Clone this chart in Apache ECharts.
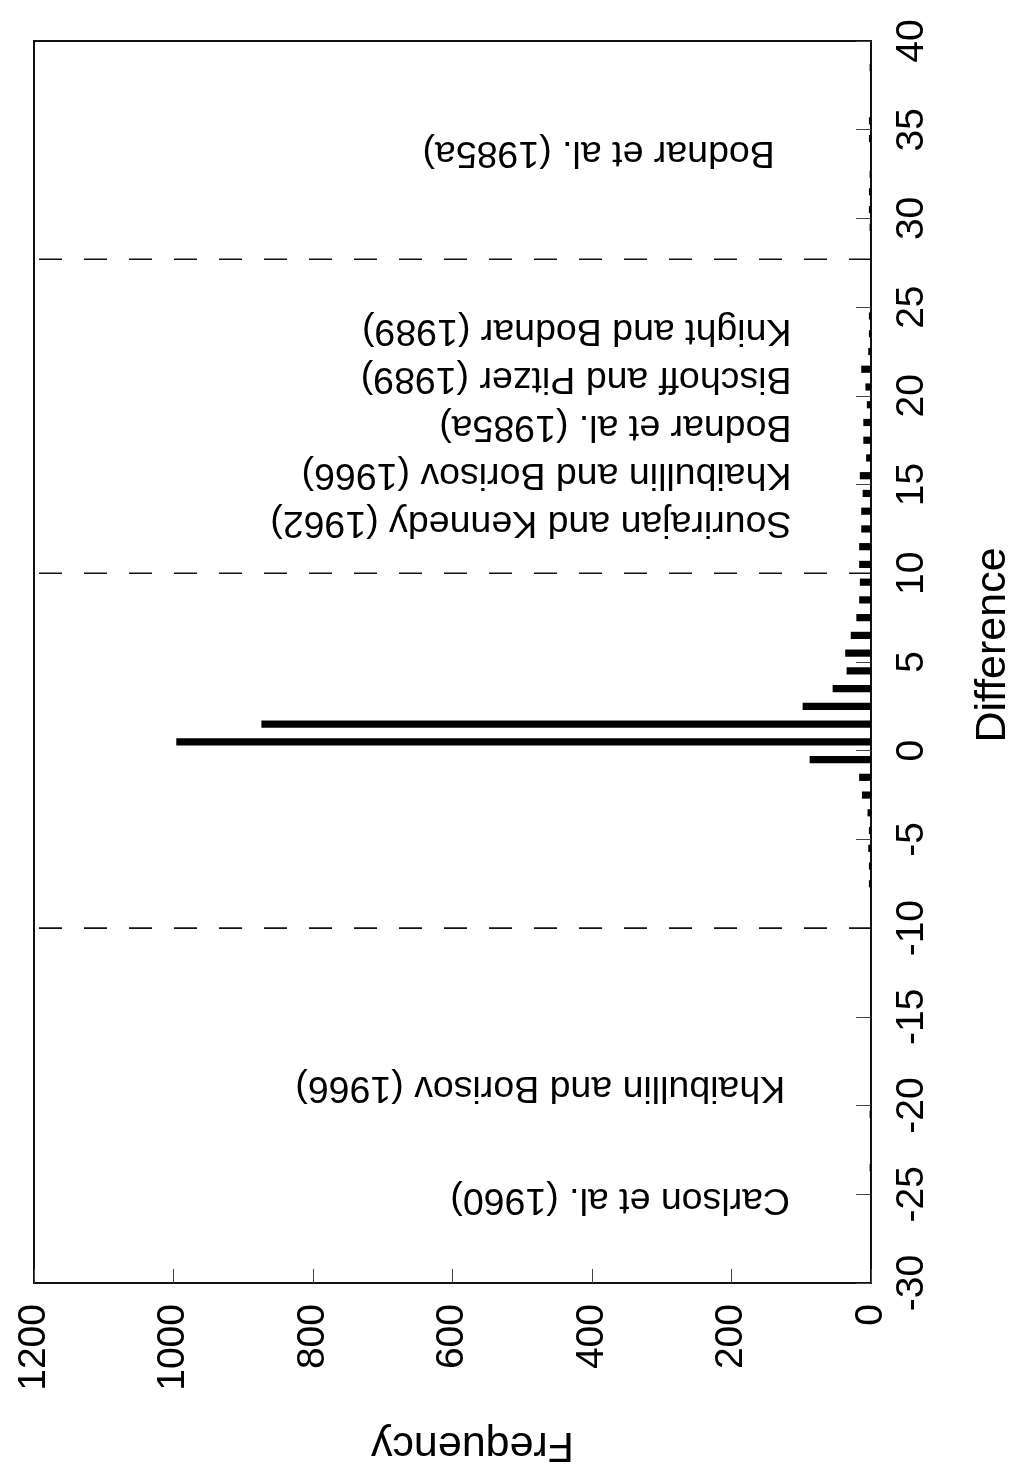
<!DOCTYPE html>
<html>
<head>
<meta charset="utf-8">
<script src="https://cdn.jsdelivr.net/npm/echarts@6/dist/echarts.min.js"></script>
<style>
  html, body { margin: 0; padding: 0; background: #fff; }
  #chart { width: 1013px; height: 1470px; }
</style>
</head>
<body>
<div id="chart"></div>
<script>
// Histogram of differences: bin midpoints and counts
const binMid = [-23.5, -20.5, -7.5, -6.5, -5.5, -4.5, -3.5, -2.5, -1.5, -0.5,
                0.5, 1.5, 2.5, 3.5, 4.5, 5.5, 6.5, 7.5, 8.5, 9.5,
                10.5, 11.5, 12.5, 13.5, 14.5, 15.5, 16.5, 17.5, 18.5, 19.5,
                20.5, 21.5, 22.5, 23.5, 24.5, 29.5, 30.5, 31.5, 32.5, 34.5,
                35.5, 38.5];
const binCount = [2, 2, 3, 3, 4, 3, 5, 13, 17, 88,
                  996, 874, 98, 55, 35, 37, 29, 21, 17, 16,
                  17, 17, 14, 14, 12, 16, 7, 11, 11, 6,
                  8, 14, 4, 3, 3, 2, 3, 3, 2, 3,
                  3, 2];

// Boundaries between the ranges covered by each source
const cutoffs = [-10, 10, 27.7];

// Source notes: text, position on the Difference axis, start on the Frequency axis
const noteText = [
  'Bodnar et al. (1985a)',
  'Knight and Bodnar (1989)',
  'Bischoff and Pitzer (1989)',
  'Bodnar et al. (1985a)',
  'Khaibullin and Borisov (1966)',
  'Sourirajan and Kennedy (1962)',
  'Khaibullin and Borisov (1966)',
  'Carlson et al. (1960)'
];
const noteDiff = [33.75, 23.7, 21.0, 18.3, 15.6, 12.85, -19.0, -25.3];
const noteFreq = [138, 114, 114, 114, 114, 114, 123, 116];

const FONT = '"Liberation Sans", Arial, Helvetica, sans-serif';
const plain = v => String(v);

const chart = echarts.init(document.getElementById('chart'), null, { renderer: 'canvas' });

chart.setOption({
  animation: false,
  backgroundColor: '#fff',
  grid: {
    left: 34, right: 142, top: 41, bottom: 187,
    outerBoundsMode: 'none', containLabel: false,
    show: true, borderColor: '#111', borderWidth: 2, backgroundColor: 'transparent'
  },
  xAxis: {
    type: 'value', min: 0, max: 1200, interval: 200, inverse: true, position: 'bottom',
    splitLine: { show: false },
    axisLine: { show: false, onZero: false },
    axisTick: { show: true, inside: true, length: 14, lineStyle: { color: '#444', width: 1 } },
    axisLabel: { rotate: 90, margin: 21, fontSize: 39, color: '#000', fontFamily: FONT, formatter: plain },
    name: 'Frequency', nameLocation: 'middle', nameGap: 140, nameRotate: 180,
    nameTextStyle: { fontSize: 43, color: '#000', fontFamily: FONT, padding: [0, 40, 0, 0] }
  },
  yAxis: {
    type: 'value', min: -30, max: 40, interval: 5, position: 'right',
    splitLine: { show: false },
    axisLine: { show: false, onZero: false },
    axisTick: { show: true, inside: true, length: 15, lineStyle: { color: '#444', width: 1 } },
    axisLabel: { rotate: 90, margin: 22, fontSize: 39, color: '#000', fontFamily: FONT, formatter: plain },
    name: 'Difference', nameLocation: 'middle', nameGap: 101, nameRotate: 90,
    nameTextStyle: { fontSize: 43, color: '#000', fontFamily: FONT, padding: [0, 0, 0, 34] }
  },
  series: [
    {
      // dashed range boundaries
      type: 'custom',
      silent: true,
      data: cutoffs.map(c => [c]),
      encode: { y: 0 },
      renderItem: function (params, api) {
        const c = api.value(0);
        const p1 = api.coord([1200, c]);
        const p2 = api.coord([0, c]);
        return {
          type: 'line',
          shape: { x1: p1[0], y1: p1[1], x2: p2[0], y2: p2[1] },
          style: { stroke: '#111', lineWidth: 1.6, lineDash: [23, 22], lineDashOffset: -5 }
        };
      }
    },
    {
      // histogram spikes
      type: 'custom',
      silent: true,
      data: binMid.map((d, i) => [binCount[i], d]),
      encode: { x: 0, y: 1 },
      renderItem: function (params, api) {
        const f = api.value(0);
        const d = api.value(1);
        const a = api.coord([0, d]);
        const b = api.coord([f, d]);
        const h = 7.2;
        return {
          type: 'rect',
          shape: { x: Math.min(a[0], b[0]), y: a[1] - h / 2, width: Math.abs(a[0] - b[0]), height: h },
          style: { fill: '#000' }
        };
      }
    },
    {
      // source notes, written upside down
      type: 'custom',
      silent: true,
      data: noteText.map((t, i) => [noteFreq[i], noteDiff[i]]),
      encode: { x: 0, y: 1 },
      renderItem: function (params, api) {
        const p = api.coord([api.value(0), api.value(1)]);
        return {
          type: 'text',
          x: p[0], y: p[1],
          rotation: Math.PI,
          style: {
            text: noteText[params.dataIndex],
            fill: '#000',
            font: '37.5px ' + FONT,
            align: 'left',
            verticalAlign: 'middle'
          }
        };
      }
    }
  ]
});
</script>
</body>
</html>
